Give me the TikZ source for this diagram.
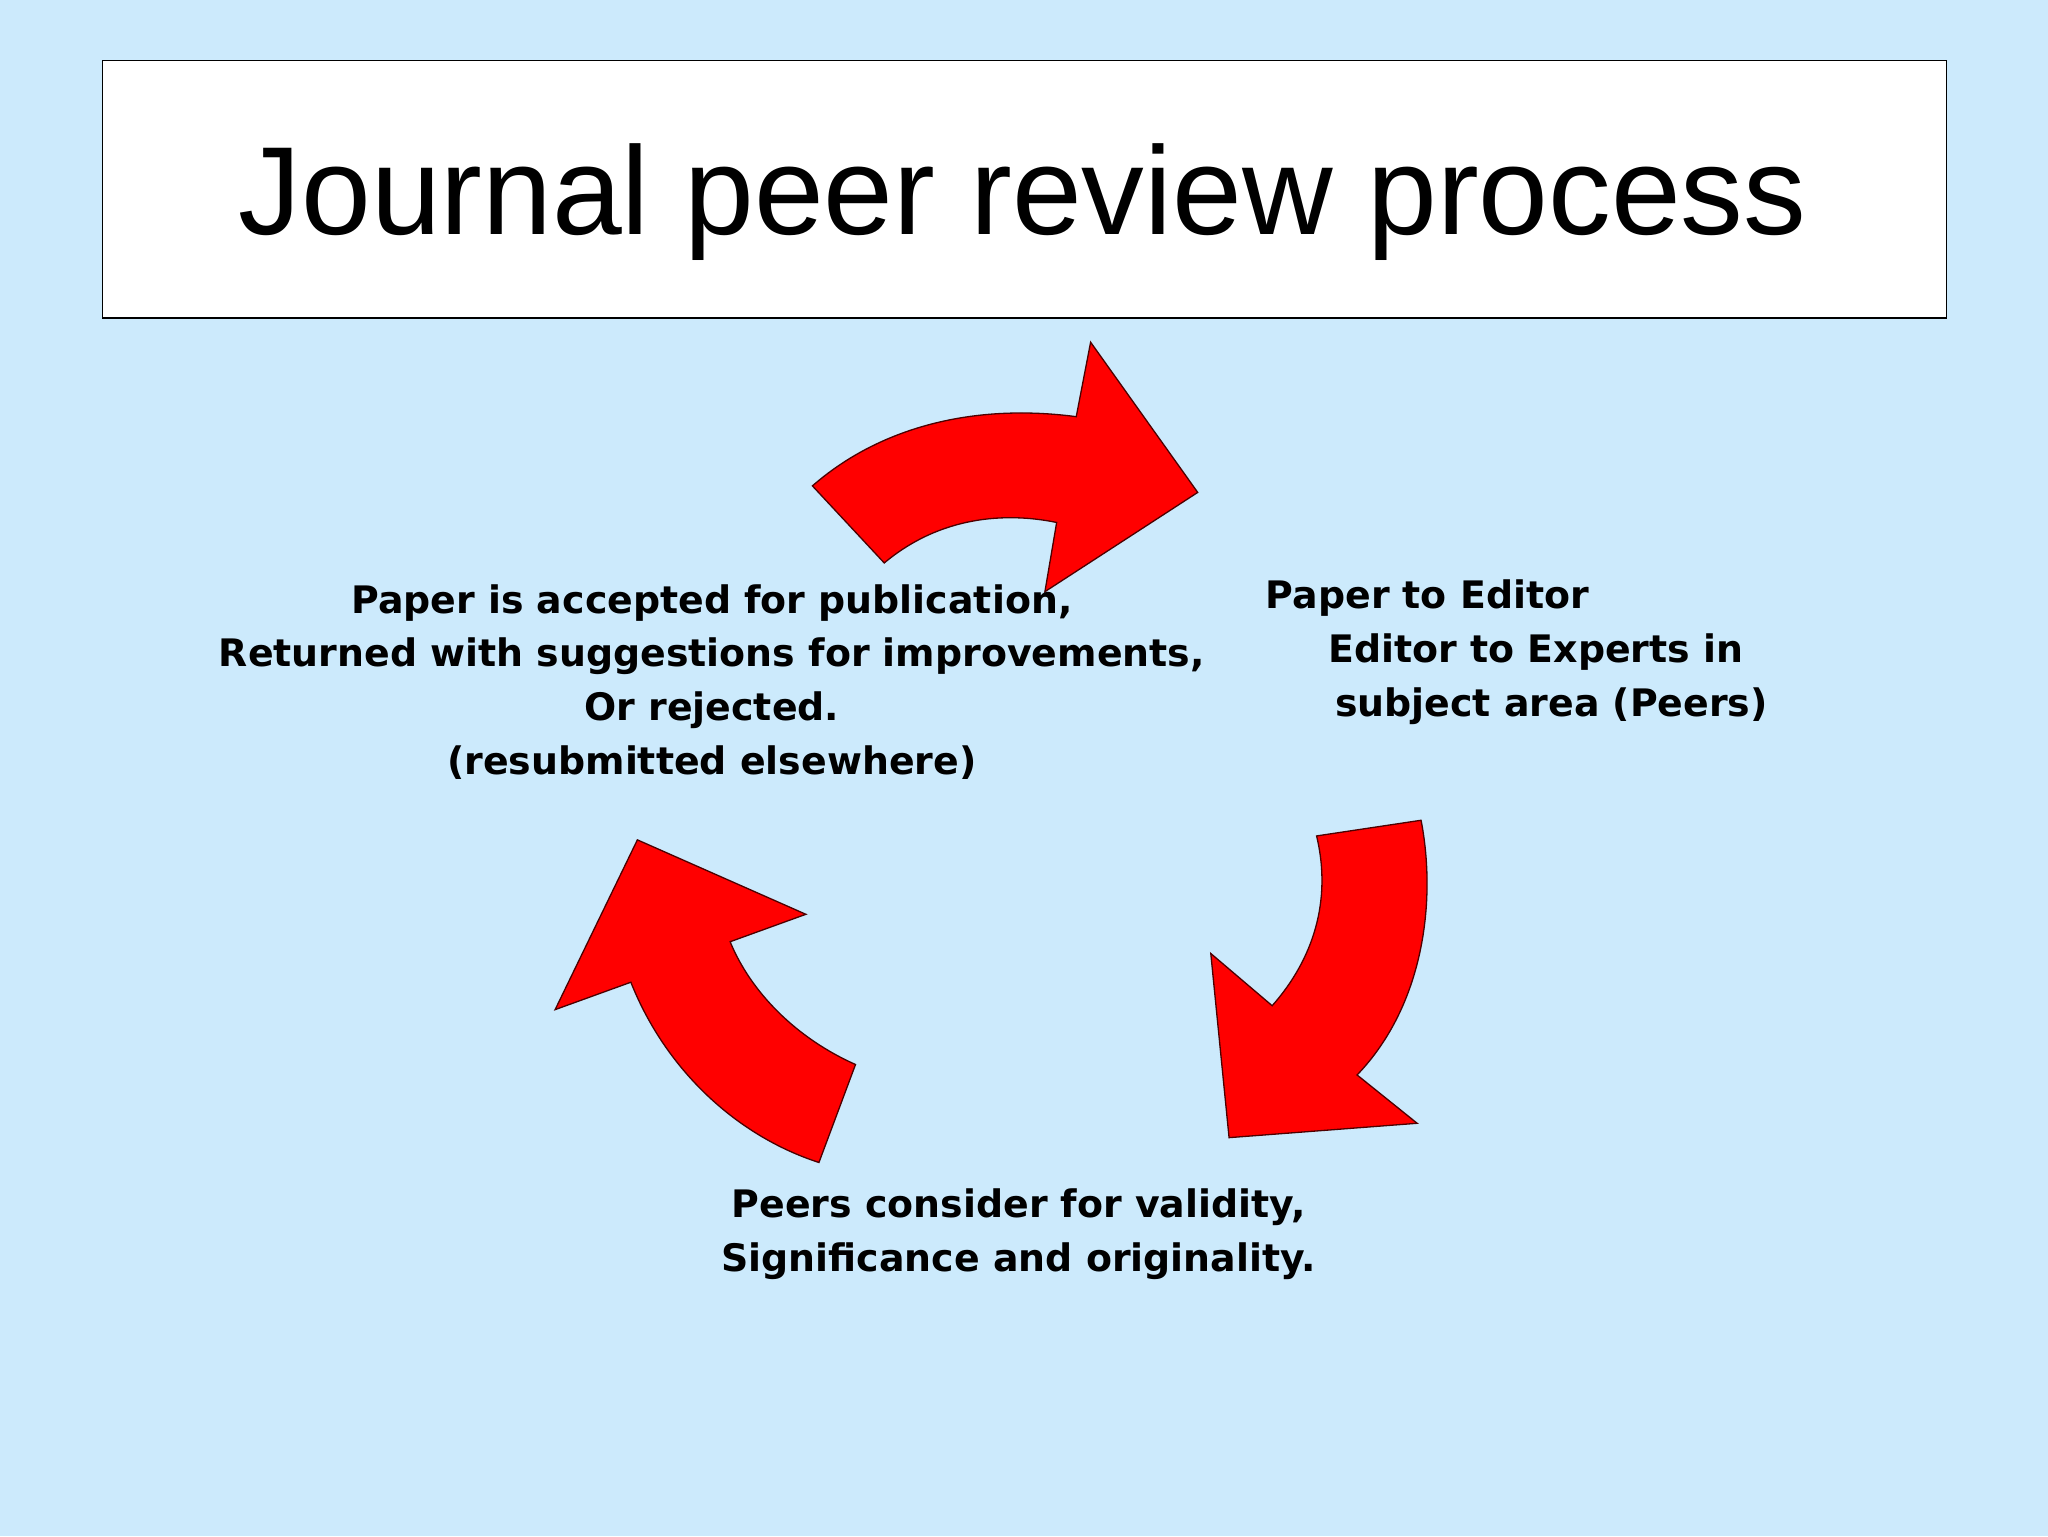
\documentclass[tikz,border=0pt]{standalone}
\usepackage{fontspec}
\setmainfont{Liberation Sans}
\newfontfamily\bodyfont{DejaVu Sans}
\begin{document}
\begin{tikzpicture}[x=1pt,y=-1pt,
  arr/.style={fill=red,draw=black!70!red,line width=1pt,line join=miter},
  lbl/.style={font=\bodyfont\bfseries\fontsize{29}{41}\selectfont,inner sep=0pt}]
\fill[fill={rgb,255:red,204;green,234;blue,252}] (0,0) rectangle (1568,1176);
\useasboundingbox (0,0) rectangle (1568,1176);
\node[draw=black,line width=1pt,fill=white,minimum width=1412pt,minimum height=197pt,anchor=north west] (title) at (78,46) {};
\node[font=\fontsize{96}{110}\selectfont,inner sep=0pt] (titletext) at (783,155) {Journal peer review process};
\draw[arr] (677,431) .. controls (720,395) and (770,392) .. (809,400) -- (800,453) -- (917,377) -- (835,262) -- (824,319) .. controls (740,308) and (670,330) .. (622,372) -- cycle;
\draw[arr] (1008,640) .. controls (1020,690) and (1005,735) .. (974,770) -- (927,730) -- (941,871) -- (1085,860) -- (1039,823) .. controls (1090,770) and (1100,690) .. (1088,628) -- cycle;
\draw[arr] (655,815) .. controls (610,795) and (575,760) .. (559,721) -- (617,700) -- (488,643) -- (425,773) -- (483,752) .. controls (510,820) and (565,870) .. (627,890) -- cycle;
\node[lbl,align=center] (left) at (545,522) {Paper is accepted for publication,\\Returned with suggestions for improvements,\\Or rejected.\\(resubmitted elsewhere)};
\node[lbl,align=left,anchor=north west] (right) at (969,444) {Paper to Editor\\\hspace*{48pt}Editor to Experts in\\\hspace*{53pt}subject area (Peers)};
\node[lbl,align=center] (bottom) at (780,945) {Peers consider for validity,\\Significance and originality.};
\end{tikzpicture}
\end{document}
